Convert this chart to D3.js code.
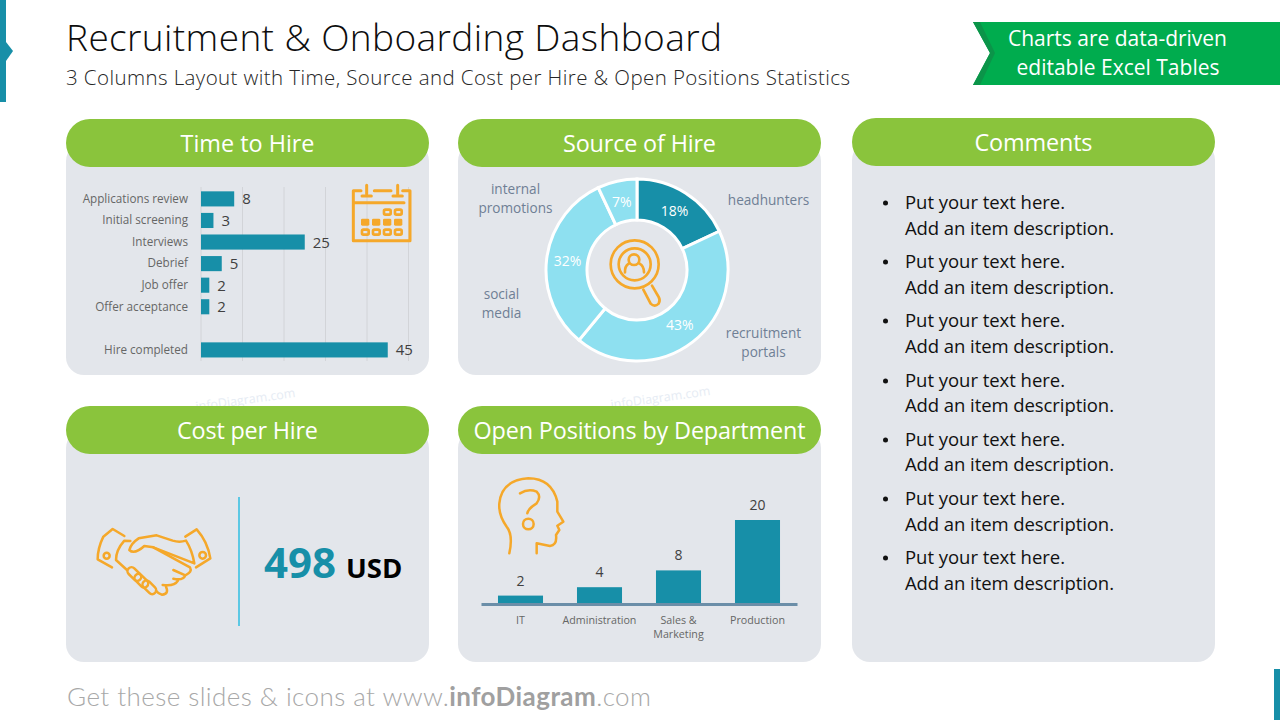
<!DOCTYPE html>
<html><head><meta charset="utf-8">
<script src="https://cdn.jsdelivr.net/npm/d3@7/dist/d3.min.js"></script>
<style>
html,body{margin:0;padding:0;background:#fff;overflow:hidden}
svg{display:block}
text{font-family:"Open Sans","Noto Sans",sans-serif}
</style></head><body>
<svg id="c" width="1280" height="720"></svg>
<script>
const stageCategories=["Applications review","Initial screening","Interviews","Debrief","Job offer","Offer acceptance"," ","Hire completed"];
const stageValues=[8,3,25,5,2,2,null,45];
const sourceCategories=["headhunters","recruitment portals","social media","internal promotions"];
const sourceValues=[18,43,32,7];
const deptCategories=["IT","Administration","Sales & Marketing","Production"];
const deptValues=[2,4,8,20];
const costValue=498;
const costUnit="USD";
const commentLines=["Put your text here.","Add an item description."];
const commentCount=7;

const TEAL="#178fa8",LIGHT="#8ee0f0",GREEN="#8ac43c",PANEL="#e3e6eb",ORANGE="#f5a82a";
const svg=d3.select("#c");

function txt(s,x,y,size,fill,opt={}){
  const t=svg.append("text").attr("x",x).attr("y",y).attr("font-size",size).attr("fill",fill).text(s);
  if(opt.anchor)t.attr("text-anchor",opt.anchor);
  if(opt.weight)t.attr("font-weight",opt.weight);
  if(opt.width)t.attr("textLength",opt.width).attr("lengthAdjust","spacing");
  if(opt.family)t.style("font-family",opt.family);
  return t;
}

// watermarks under the panels
[[246,404],[661,402]].forEach(p=>{
  svg.append("text").attr("transform",`translate(${p[0]},${p[1]}) rotate(-8)`).attr("text-anchor","middle")
    .attr("font-size",12.5).attr("fill","#e6ecf4").text("infoDiagram.com");
});

// slide chrome
svg.append("rect").attr("x",0).attr("y",0).attr("width",6).attr("height",102).attr("fill",TEAL);
svg.append("path").attr("d","M6 42L13 51L6 61Z").attr("fill",TEAL);
svg.append("rect").attr("x",1274).attr("y",669).attr("width",6).attr("height",51).attr("fill",TEAL);
svg.append("path").attr("d","M973 22H1280V85H973L990 53Z").attr("fill","#00ac4e");
svg.append("path").attr("d","M973 22H980L995 53L980 85H973L990 53Z").attr("fill","#0b9449");

txt("Recruitment & Onboarding Dashboard",66,51,37,"#0d0d0d",{width:656,weight:300});
txt("3 Columns Layout with Time, Source and Cost per Hire & Open Positions Statistics",66,85,20.5,"#262626",{width:784,weight:300});
txt("Charts are data-driven",1117.5,46,21,"#fff",{anchor:"middle",width:219});
txt("editable Excel Tables",1118,75,21,"#fff",{anchor:"middle",width:203});

const foot=svg.append("text").attr("x",67).attr("y",706).attr("font-size",26).attr("font-weight",300).attr("fill","#a8a8a8")
  .attr("textLength",584).attr("lengthAdjust","spacing").style("font-family","Lato");
foot.append("tspan").text("Get these slides & icons at www.");
foot.append("tspan").attr("font-weight",700).attr("fill","#a0a0a0").text("infoDiagram");
foot.append("tspan").text(".com");

// panels
const panels=[
 {x:66,y:119,h:256,t:"Time to Hire",w:134},
 {x:458,y:119,h:256,t:"Source of Hire",w:153},
 {x:66,y:406,h:256,t:"Cost per Hire",w:141},
 {x:458,y:406,h:256,t:"Open Positions by Department",w:332},
 {x:852,y:118,h:544,t:"Comments",w:118}];
panels.forEach(p=>{
  svg.append("rect").attr("x",p.x).attr("y",p.y+24).attr("width",363).attr("height",p.h-24).attr("rx",18).attr("fill",PANEL);
  svg.append("rect").attr("x",p.x).attr("y",p.y).attr("width",363).attr("height",48).attr("rx",24).attr("fill",GREEN);
  txt(p.t,p.x+181.5,p.y+33,23.4,"#fff",{anchor:"middle",width:p.w});
});

// Time to hire bars
const xBar=d3.scaleLinear().domain([0,50]).range([201,408.5]);
const yBar=d3.scaleBand().domain(stageCategories).range([188.1,360.7]).paddingInner(0.3).paddingOuter(0.15);
const gH=svg.append("g");
gH.selectAll("line.grid").data(xBar.ticks(5)).join("line").attr("class","grid")
  .attr("x1",d=>xBar(d)).attr("x2",d=>xBar(d)).attr("y1",187).attr("y2",361)
  .attr("stroke","#d2d4d8").attr("stroke-width",1);
const axL=svg.append("g").attr("transform","translate(201,0)")
  .call(d3.axisLeft(yBar).tickSize(0).tickPadding(13));
axL.select(".domain").remove();
axL.selectAll("text").attr("font-size",11.7).attr("fill","#666").style("font-family",'"Open Sans"');
const stageRows=stageCategories.map((c,i)=>({c,v:stageValues[i]})).filter(d=>d.v!==null);
gH.selectAll("rect.bar").data(stageRows).join("rect").attr("class","bar")
  .attr("x",xBar(0)).attr("y",d=>yBar(d.c)).attr("width",d=>xBar(d.v)-xBar(0)).attr("height",yBar.bandwidth()).attr("fill",TEAL);
gH.selectAll("text.val").data(stageRows).join("text").attr("class","val")
  .attr("x",d=>xBar(d.v)+8).attr("y",d=>yBar(d.c)+yBar.bandwidth()/2+5.5)
  .attr("font-size",15).attr("fill","#404040").text(d=>d.v);

// Source of hire donut
const CX=637,CY=270;
const pie=d3.pie().sort(null)(sourceValues);
const arc=d3.arc().innerRadius(50).outerRadius(91);
const gD=svg.append("g").attr("transform",`translate(${CX},${CY})`);
gD.selectAll("path").data(pie).join("path").attr("d",arc)
  .attr("fill",(d,i)=>i===0?TEAL:LIGHT).attr("stroke","#fff").attr("stroke-width",3);
const arcL=d3.arc().innerRadius(70).outerRadius(70);
gD.selectAll("text").data(pie).join("text")
  .attr("transform",d=>`translate(${arcL.centroid(d)})`).attr("text-anchor","middle").attr("dy",5)
  .attr("font-size",14).attr("fill","#fff").text(d=>d.value+"%");
const LBL="#6f7f95";
const srcLabels=[[["headhunters"],768.5,205],[["recruitment","portals"],763.5,338],[["social","media"],501.5,299],[["internal","promotions"],515.5,194]];
srcLabels.forEach(l=>{
  l[0].forEach((s,j)=>txt(s,l[1],l[2]+j*19,13.6,LBL,{anchor:"middle"}));
});

// Cost per hire
svg.append("line").attr("x1",239).attr("x2",239).attr("y1",497).attr("y2",626).attr("stroke","#5cc8e4").attr("stroke-width",2);
txt(costValue,264,578,42,TEAL,{weight:700});
txt(costUnit,346,578,27.5,"#000",{weight:700});

// Open positions columns
const xCol=d3.scaleBand().domain(deptCategories).range([481,797]).paddingInner(0.43).paddingOuter(0.215);
const yCol=d3.scaleLinear().domain([0,20]).range([604,520]);
const gC=svg.append("g");
gC.selectAll("rect").data(deptCategories).join("rect")
  .attr("x",d=>xCol(d)).attr("width",xCol.bandwidth())
  .attr("y",(d,i)=>yCol(deptValues[i])).attr("height",(d,i)=>yCol(0)-yCol(deptValues[i])).attr("fill",TEAL);
gC.selectAll("text").data(deptCategories).join("text")
  .attr("x",d=>xCol(d)+xCol.bandwidth()/2).attr("y",(d,i)=>yCol(deptValues[i])-10).attr("text-anchor","middle")
  .attr("font-size",14).attr("fill","#404040").text((d,i)=>deptValues[i]);
const axB=svg.append("g").attr("transform","translate(0,604)")
  .call(d3.axisBottom(xCol).tickSize(0).tickPadding(12).tickFormat(()=>""));
axB.select(".domain").attr("stroke","#6b8ea8").attr("stroke-width",3);
axB.selectAll(".tick text").each(function(d){
  const t=d3.select(this).attr("font-size",10.7).attr("fill","#666").style("font-family",'"Open Sans"');
  const parts=d.includes(" & ")?[d.split(" & ")[0]+" &",d.split(" & ")[1]]:[d];
  parts.forEach((s,j)=>t.append("tspan").attr("x",0).attr("dy",j?"1.3em":"0.71em").text(s));
});

// Comments
const firstBase=[209,268,327,387,446,505,564];
const secondBase=[235,294,353,412,471,531,590];
d3.range(commentCount).forEach(i=>{
  svg.append("circle").attr("cx",885.5).attr("cy",firstBase[i]-6).attr("r",2.5).attr("fill","#111");
  txt(commentLines[0],905,firstBase[i],18.5,"#111",{width:160});
  txt(commentLines[1],905,secondBase[i],18.5,"#111",{width:209});
});

// Icons
function icon(tx,ty,k,sw){return svg.append("g").attr("transform",`translate(${tx},${ty}) scale(${k})`)
  .attr("fill","none").attr("stroke",ORANGE).attr("stroke-width",sw).attr("stroke-linecap","round").attr("stroke-linejoin","round");}
// calendar
const cal=icon(66,170,1/3,9);
cal.append("path").attr("d","M885 62H862V212H1032V62H1010M925 62H975M866 98H1014");
cal.append("path").attr("d","M902 46V72M888 78H916M995 46V72M981 78H1009");
[[885,146],[918,146],[951,146],[984,146]].forEach(p=>cal.append("rect").attr("x",p[0]).attr("y",p[1]).attr("width",25).attr("height",21).attr("rx",4).attr("fill",ORANGE).attr("stroke","none"));
[[951,116],[984,116],[885,176],[918,176],[951,176],[984,176]].forEach(p=>cal.append("rect").attr("x",p[0]+3).attr("y",p[1]+3).attr("width",20).attr("height",15).attr("rx",4).attr("stroke-width",8));
// magnifier
const mag=icon(458,165,1/3,8);
mag.append("circle").attr("cx",530).attr("cy",298).attr("r",72);
mag.append("circle").attr("cx",530).attr("cy",298).attr("r",48);
mag.append("circle").attr("cx",528).attr("cy",284).attr("r",16);
mag.append("path").attr("d","M512 296Q500 304 501 322M545 296Q558 304 558 322");
mag.append("path").attr("d","M556 374L578 416Q590 428 602 416Q608 406 602 396L582 362");
// handshake
const hs=icon(66,470,1/3,7.5);
hs.append("path").attr("d","M175 198L140 177L112 200Q95 235 95 268L138 292");
hs.append("circle").attr("cx",122).attr("cy",257).attr("r",9);
hs.append("path").attr("d","M193 213L175 212Q150 240 150 270L183 300");
hs.append("path").attr("d","M358 200L392 178Q425 215 433 265L390 292");
hs.append("circle").attr("cx",410).attr("cy",256).attr("r",10);
hs.append("path").attr("d","M360 212Q340 218 320 212L272 196L218 205Q195 220 190 240Q205 255 235 228L262 232L385 280Q378 240 360 212");
hs.append("path").attr("d","M262 232L372 292Q380 306 358 316L322 300M358 316Q352 332 322 326M336 332Q325 350 290 345M300 350Q310 372 288 374Q278 372 270 362");
[[205,312],[226,332],[250,352]].forEach(p=>hs.append("rect").attr("x",p[0]-24).attr("y",p[1]-12).attr("width",48).attr("height",24).attr("rx",12).attr("transform",`rotate(45 ${p[0]} ${p[1]})`));
// head
const hd=icon(470,465,1/3,7.5);
hd.append("path").attr("d","M118 265Q130 210 110 185Q85 150 88 115Q95 45 175 40Q245 40 262 110L262 140L280 170L262 182L268 195L258 210Q262 240 240 243L200 235L200 265");
hd.append("path").attr("d","M150 85Q175 70 200 80Q215 95 200 115Q175 130 172 145");
hd.append("circle").attr("cx",175).attr("cy",177).attr("r",16);
</script>
</body></html>
